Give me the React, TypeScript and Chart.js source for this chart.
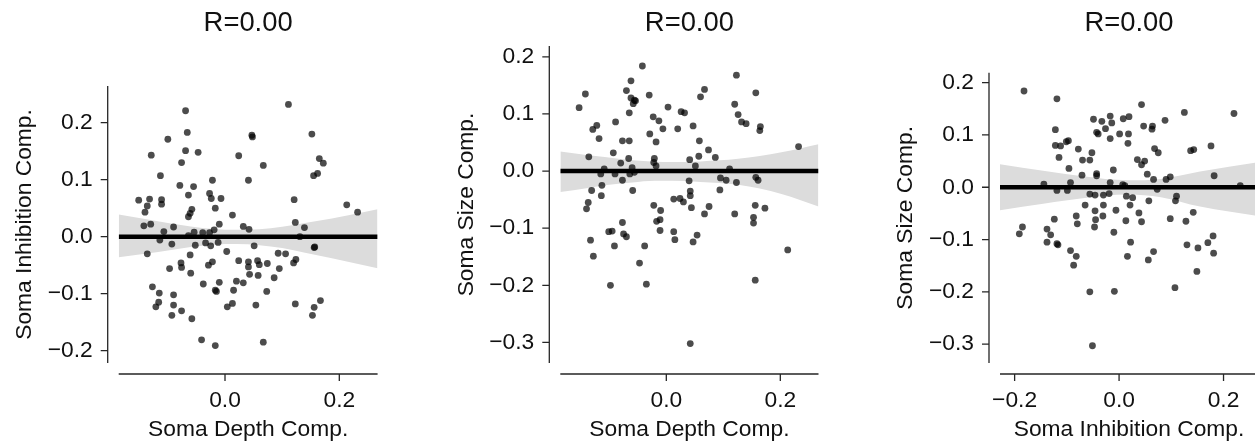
import React, { useEffect, useRef } from 'react';
import { Chart, registerables } from 'chart.js';

Chart.register(...registerables);

// ---------- Panel 1: Soma Depth Comp. vs Soma Inhibition Comp. ----------
const p1Depth = [
  -0.151, -0.132, -0.136, -0.140, -0.142, -0.130, -0.136, -0.129, -0.113, -0.111,
  -0.111, -0.107, -0.114, -0.100, -0.097, -0.090, -0.093, -0.127, -0.115, -0.116,
  -0.121, -0.093, -0.090, -0.090, -0.076, -0.077, -0.076, -0.069, -0.066, -0.069,
  -0.047, -0.076, -0.079, -0.064, -0.055, -0.058, -0.061, -0.064, -0.064, -0.052,
  -0.061, -0.060, -0.058, -0.041, -0.038, -0.054, -0.039, -0.027, -0.034, -0.029,
  -0.022, -0.022, -0.027, -0.024, -0.017, -0.007, -0.019, -0.010, -0.012, -0.025,
  -0.017, -0.015, -0.010, -0.017, 0.003, 0.013, 0.024, 0.015, 0.020, 0.004,
  0.013, 0.024, 0.041, 0.032, 0.042, 0.041, 0.041, 0.043, 0.032, 0.047,
  0.048, 0.067, 0.051, 0.057, 0.060, 0.058, 0.054, 0.074, 0.073, 0.067,
  0.086, 0.095, 0.093, 0.106, 0.111, 0.121, 0.123, 0.120, 0.124, 0.131,
  0.139, 0.123, 0.152, 0.165, 0.172, 0.162, 0.155, 0.157, 0.156, 0.153,
  0.156, 0.167, 0.213, 0.232,
];
const p1Inhib = [
  0.064, 0.066, 0.054, 0.043, 0.019, 0.022, -0.030, 0.143, 0.107, 0.065,
  0.057, 0.009, -0.006, 0.171, -0.056, 0.017, -0.013, -0.088, -0.099, -0.115,
  -0.123, -0.138, -0.102, -0.120, -0.130, -0.046, -0.054, 0.221, 0.183, 0.151,
  0.148, 0.130, 0.090, 0.073, 0.088, 0.048, 0.041, 0.035, 0.002, -0.015,
  -0.032, -0.064, -0.144, -0.181, -0.083, 0.008, 0.007, 0.007, -0.011, -0.050,
  -0.044, 0.099, 0.076, 0.067, 0.050, 0.067, 0.012, 0.022, -0.010, -0.016,
  -0.094, -0.096, -0.080, -0.191, -0.026, 0.038, -0.042, -0.094, -0.078, -0.123,
  -0.117, 0.142, 0.099, 0.018, 0.013, -0.044, -0.053, -0.066, -0.081, 0.178,
  0.175, 0.125, -0.016, -0.042, -0.049, -0.068, -0.120, -0.047, -0.096, -0.185,
  -0.072, -0.056, -0.029, -0.030, 0.232, 0.065, 0.025, -0.046, -0.040, 0.000,
  0.016, -0.118, 0.180, 0.137, 0.129, 0.111, 0.107, -0.018, -0.019, -0.138,
  -0.124, -0.112, 0.056, 0.043,
];
const p1BandX = [-0.186, -0.14, -0.1, -0.06, -0.02, 0.02, 0.06, 0.1, 0.14, 0.187, 0.267];
const p1BandUpper = [0.039, 0.031, 0.024, 0.018, 0.0135, 0.012, 0.013, 0.0175, 0.024, 0.032, 0.048];
const p1BandLower = [-0.036, -0.030, -0.024, -0.018, -0.014, -0.013, -0.015, -0.020, -0.028, -0.038, -0.0555];
const p1FitX = [-0.186, 0.267];
const p1FitY = [0, 0];

// ---------- Panel 2: Soma Depth Comp. vs Soma Size Comp. ----------
const p2Depth = [
  -0.153, -0.142, -0.136, -0.129, -0.122, -0.118, -0.131, -0.137, -0.140, -0.114,
  -0.113, -0.115, -0.109, -0.133, -0.128, -0.101, -0.095, -0.098, -0.093, -0.089,
  -0.091, -0.090, -0.080, -0.077, -0.077, -0.077, -0.075, -0.070, -0.070, -0.062,
  -0.065, -0.065, -0.066, -0.062, -0.058, -0.056, -0.054, -0.064, -0.060, -0.059,
  -0.056, -0.047, -0.042, -0.038, -0.035, -0.030, -0.029, -0.023, -0.018, -0.013,
  -0.006, -0.021, -0.022, -0.018, -0.022, -0.017, -0.010, -0.011, -0.011, 0.003,
  0.026, 0.032, 0.020, 0.047, 0.041, 0.051, 0.040, 0.042, 0.042, 0.044,
  0.030, 0.024, 0.013, 0.013, 0.015, 0.047, 0.054, 0.042, 0.067, 0.060,
  0.058, 0.057, 0.074, 0.086, 0.075, 0.067, 0.094, 0.095, 0.105, 0.111,
  0.123, 0.120, 0.123, 0.120, 0.126, 0.132, 0.140, 0.157, 0.165, 0.164,
  0.157, 0.161, 0.156, 0.153, 0.153, 0.173, 0.156, 0.213, 0.232,
];
const p2Size = [
  0.111, 0.135, 0.025, 0.073, 0.080, 0.057, -0.034, -0.055, -0.066, -0.043,
  -0.025, -0.005, 0.004, -0.121, -0.149, -0.106, -0.105, -0.200, 0.032, 0.086,
  -0.131, -0.005, 0.014, -0.016, 0.053, -0.090, -0.110, -0.115, 0.141, 0.158,
  0.102, 0.053, 0.022, 0.128, 0.118, 0.124, 0.123, -0.005, 0.006, -0.034,
  -0.002, -0.161, 0.184, -0.131, -0.198, 0.133, 0.065, 0.095, 0.051, 0.088,
  0.074, 0.022, 0.015, 0.009, -0.060, -0.088, -0.069, -0.085, -0.104, 0.112,
  0.104, 0.102, 0.074, 0.079, 0.020, 0.009, -0.017, -0.035, -0.043, -0.064,
  -0.054, -0.048, -0.049, -0.106, -0.120, -0.124, -0.112, -0.302, 0.143, 0.130,
  0.053, 0.026, 0.037, 0.024, -0.062, -0.075, -0.033, -0.012, -0.016, 0.004,
  -0.020, -0.075, 0.168, 0.117, 0.099, 0.086, 0.083, 0.137, 0.078, 0.071,
  -0.011, -0.016, -0.060, -0.081, -0.091, -0.065, -0.191, -0.138, 0.043,
];
const p2BandX = [-0.186, -0.14, -0.108, -0.06, -0.02, 0.009, 0.06, 0.126, 0.202, 0.267];
const p2BandUpper = [0.0343, 0.028, 0.0245, 0.019, 0.0165, 0.0158, 0.017, 0.0215, 0.033, 0.047];
const p2BandLower = [-0.0368, -0.030, -0.025, -0.020, -0.017, -0.017, -0.019, -0.024, -0.040, -0.062];
const p2FitX = [-0.186, 0.267];
const p2FitY = [0, 0];

// ---------- Panel 3: Soma Inhibition Comp. vs Soma Size Comp. ----------
const p3Inhib = [
  -0.182, -0.191, -0.185, -0.144, -0.138, -0.138, -0.131, -0.119, -0.117, -0.124,
  -0.119, -0.122, -0.119, -0.122, -0.112, -0.115, -0.101, -0.097, -0.099, -0.096,
  -0.093, -0.093, -0.082, -0.080, -0.082, -0.087, -0.078, -0.070, -0.071, -0.065,
  -0.056, -0.056, -0.052, -0.049, -0.043, -0.040, -0.033, -0.026, -0.017, -0.014,
  -0.017, -0.011, -0.043, -0.043, -0.046, -0.046, -0.045, -0.047, -0.030, -0.030,
  -0.031, -0.019, -0.017, -0.006, -0.010, -0.009, -0.056, -0.051, 0.001, 0.008,
  0.019, 0.018, 0.017, 0.007, 0.011, 0.014, 0.013, 0.021, 0.026, 0.022,
  0.016, 0.038, 0.043, 0.043, 0.047, 0.064, 0.063, 0.035, 0.043, 0.049,
  0.054, 0.057, 0.068, 0.075, 0.066, 0.073, 0.088, 0.090, 0.098, 0.056,
  0.066, 0.098, 0.108, 0.110, 0.107, 0.125, 0.128, 0.130, 0.137, 0.143,
  0.142, 0.151, 0.149, 0.176, 0.182, 0.170, 0.180, 0.181, 0.220, 0.232,
];
const p3Size = [
  0.184, -0.089, -0.076, 0.006, -0.080, -0.105, -0.091, -0.108, -0.110, -0.061,
  -0.006, 0.110, 0.169, 0.080, 0.079, 0.057, 0.087, 0.089, -0.006, 0.036,
  0.009, -0.121, -0.055, -0.070, -0.132, -0.149, 0.073, 0.052, 0.023, -0.034,
  0.052, -0.013, 0.066, 0.130, 0.105, 0.102, 0.126, 0.112, 0.136, 0.123,
  0.093, 0.033, 0.026, 0.022, -0.015, -0.045, -0.062, -0.076, -0.015, -0.034,
  -0.055, -0.012, 0.009, -0.044, -0.086, -0.199, -0.200, -0.303, 0.102, 0.131,
  0.135, 0.102, 0.084, 0.005, 0.003, -0.017, -0.064, -0.034, -0.020, -0.105,
  -0.132, -0.049, -0.066, 0.158, 0.117, 0.117, 0.111, 0.053, 0.043, 0.050,
  0.025, -0.026, 0.074, 0.066, 0.015, -0.004, 0.128, 0.015, 0.020, -0.139,
  -0.123, -0.060, -0.026, -0.017, -0.192, 0.143, -0.065, -0.110, 0.070, 0.072,
  -0.048, -0.116, -0.161, 0.079, 0.022, -0.106, -0.093, -0.126, 0.141, 0.003,
];
const p3BandX = [-0.228, -0.142, -0.07, 0.017, 0.08, 0.155, 0.266];
const p3BandUpper = [0.044, 0.031, 0.021, 0.0134, 0.016, 0.030, 0.048];
const p3BandLower = [-0.044, -0.031, -0.021, -0.014, -0.019, -0.037, -0.055];
const p3FitX = [-0.228, 0.266];
const p3FitY = [0, 0];

const titles = ['R=0.00', 'R=0.00', 'R=0.00'];
const xLabels = ['Soma Depth Comp.', 'Soma Depth Comp.', 'Soma Inhibition Comp.'];
const yLabels = ['Soma Inhibition Comp.', 'Soma Size Comp.', 'Soma Size Comp.'];

// ---------- styling ----------
const FONT = "'Liberation Sans', Arial, Helvetica, sans-serif";
const TXT = '#111111';
const AXIS = '#262626';
const BAND = '#dcdcdc';
const DOT = 'rgba(0,0,0,0.7)';
const H = 446;
const LABEL_SIZE = 22.8;
const TITLE_SIZE = 27.4;

type Panel = {
  xs: number[]; ys: number[];
  bandX: number[]; bandU: number[]; bandL: number[];
  fitX: number[]; fitY: number[];
  xMin: number; xMax: number; yMin: number; yMax: number;
  title: string; xLabel: string; yLabel: string;
  L: number; R: number; T: number; B: number; cw: number;
};

const panels: Panel[] = [
  {
    xs: p1Depth, ys: p1Inhib, bandX: p1BandX, bandU: p1BandUpper, bandL: p1BandLower,
    fitX: p1FitX, fitY: p1FitY, xMin: -0.186, xMax: 0.267, yMin: -0.2216, yMax: 0.2644,
    title: titles[0], xLabel: xLabels[0], yLabel: yLabels[0],
    L: 118.7, R: 377.6, T: 86, B: 363, cw: 1255,
  },
  {
    xs: p2Depth, ys: p2Size, bandX: p2BandX, bandU: p2BandUpper, bandL: p2BandLower,
    fitX: p2FitX, fitY: p2FitY, xMin: -0.186, xMax: 0.267, yMin: -0.336, yMax: 0.219,
    title: titles[1], xLabel: xLabels[1], yLabel: yLabels[1],
    L: 560.3, R: 818.5, T: 46, B: 363, cw: 1255,
  },
  {
    xs: p3Inhib, ys: p3Size, bandX: p3BandX, bandU: p3BandUpper, bandL: p3BandLower,
    fitX: p3FitX, fitY: p3FitY, xMin: -0.228, xMax: 0.266, yMin: -0.336, yMax: 0.219,
    title: titles[2], xLabel: xLabels[2], yLabel: yLabels[2],
    L: 1000, R: 1258, T: 72.7, B: 363, cw: 1300,
  },
];

const zip = (a: number[], b: number[]) => a.map((v, i) => ({ x: v, y: b[i] }));
const fmt = (v: any) => {
  const n = Math.abs(Number(v)) < 1e-9 ? 0 : Number(v);
  return (n < 0 ? '\u2212' : '') + Math.abs(n).toFixed(1);
};

const offsetAxes = {
  id: 'offsetAxes',
  afterDraw(chart: any) {
    const { ctx, chartArea, scales } = chart;
    const off = 11;
    const tl = 7;
    const xs = scales.x;
    const ys = scales.y;
    ctx.save();
    ctx.strokeStyle = AXIS;
    ctx.lineWidth = 1.3;
    ctx.lineCap = 'butt';
    ctx.beginPath();
    const ax = chartArea.left - off;
    ctx.moveTo(ax, chartArea.top);
    ctx.lineTo(ax, chartArea.bottom);
    ys.ticks.forEach((t: any) => {
      const p = ys.getPixelForValue(t.value);
      ctx.moveTo(ax - tl, p);
      ctx.lineTo(ax, p);
    });
    const ay = chartArea.bottom + off;
    ctx.moveTo(chartArea.left, ay);
    ctx.lineTo(chartArea.right, ay);
    xs.ticks.forEach((t: any) => {
      const p = xs.getPixelForValue(t.value);
      ctx.moveTo(p, ay);
      ctx.lineTo(p, ay + tl);
    });
    ctx.stroke();
    ctx.restore();
  },
};

function buildChart(canvas: HTMLCanvasElement, p: Panel) {
  const labelLH = LABEL_SIZE * 1.2;
  const titleLH = TITLE_SIZE * 1.2;
  const yTitleCenter = p.L - 94;
  const padL = yTitleCenter - labelLH / 2;
  const titleTop = 7;
  return new Chart(canvas, {
    type: 'scatter',
    data: {
      datasets: [
        {
          type: 'line', data: zip(p.bandX, p.bandU), fill: '+1', backgroundColor: BAND,
          borderColor: 'rgba(0,0,0,0)', borderWidth: 0, pointRadius: 0,
          cubicInterpolationMode: 'monotone', order: 3,
        } as any,
        {
          type: 'line', data: zip(p.bandX, p.bandL), fill: false,
          borderColor: 'rgba(0,0,0,0)', borderWidth: 0, pointRadius: 0,
          cubicInterpolationMode: 'monotone', order: 3,
        } as any,
        {
          type: 'scatter', data: zip(p.xs, p.ys), pointRadius: 3.4,
          backgroundColor: DOT, pointBackgroundColor: DOT, borderWidth: 0, pointBorderWidth: 0,
          order: 2,
        } as any,
        {
          type: 'line', data: zip(p.fitX, p.fitY), borderColor: '#000', borderWidth: 4.5,
          pointRadius: 0, fill: false, borderCapStyle: 'butt', order: 1,
        } as any,
      ],
    },
    options: {
      responsive: false,
      animation: false,
      devicePixelRatio: 1,
      events: [],
      layout: { padding: { left: padL, right: p.cw - p.R, top: 0, bottom: 0 } },
      plugins: {
        legend: { display: false },
        tooltip: { enabled: false },
        title: {
          display: true, text: p.title, position: 'top', fullSize: false,
          color: TXT, font: { family: FONT, size: TITLE_SIZE, weight: 'normal' },
          padding: { top: titleTop, bottom: p.T - titleTop - titleLH },
        },
      },
      scales: {
        x: {
          type: 'linear', min: p.xMin, max: p.xMax,
          grid: { display: false, drawTicks: false },
          border: { display: false },
          ticks: {
            stepSize: 0.2, includeBounds: false, autoSkip: false, maxRotation: 0, minRotation: 0,
            padding: 10, color: TXT, font: { family: FONT, size: LABEL_SIZE, lineHeight: '56px' },
            callback: fmt,
          },
          title: {
            display: true, text: p.xLabel, color: TXT,
            font: { family: FONT, size: LABEL_SIZE }, padding: { top: 0, bottom: 2.8 },
          },
          afterFit: (s: any) => { s.height = H - p.B; },
        },
        y: {
          type: 'linear', min: p.yMin, max: p.yMax,
          grid: { display: false, drawTicks: false },
          border: { display: false },
          ticks: {
            stepSize: 0.1, includeBounds: false, autoSkip: false,
            padding: 26, color: TXT, font: { family: FONT, size: LABEL_SIZE },
            callback: fmt,
          },
          title: {
            display: true, text: p.yLabel, color: TXT,
            font: { family: FONT, size: LABEL_SIZE }, padding: { top: 0, bottom: 0 },
          },
          afterFit: (s: any) => { s.width = p.L - padL; },
        },
      },
    } as any,
    plugins: [offsetAxes],
  });
}

export default function App() {
  const r1 = useRef<HTMLCanvasElement>(null);
  const r2 = useRef<HTMLCanvasElement>(null);
  const r3 = useRef<HTMLCanvasElement>(null);

  useEffect(() => {
    const refs = [r1, r2, r3];
    const charts = refs.map((r, i) => buildChart(r.current as HTMLCanvasElement, panels[i]));
    return () => charts.forEach((c) => c.destroy());
  }, []);

  const cs: React.CSSProperties = { position: 'absolute', left: 0, top: 0, pointerEvents: 'none' };
  return (
    <div style={{ position: 'absolute', left: 0, top: 0, width: 1255, height: H, overflow: 'hidden', background: '#fff' }}>
      <canvas ref={r1} width={panels[0].cw} height={H} style={cs} />
      <canvas ref={r2} width={panels[1].cw} height={H} style={cs} />
      <canvas ref={r3} width={panels[2].cw} height={H} style={cs} />
    </div>
  );
}
